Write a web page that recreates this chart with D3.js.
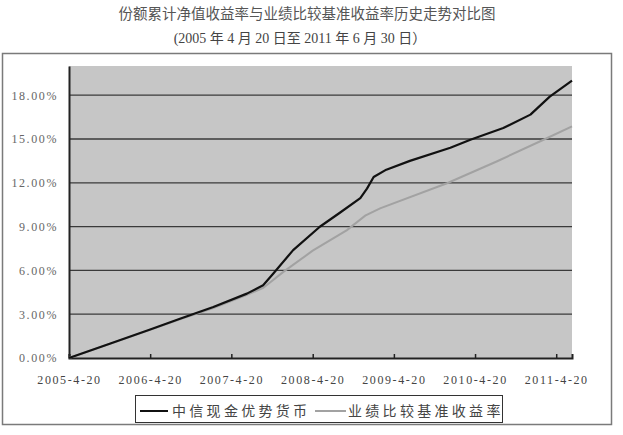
<!DOCTYPE html>
<html>
<head>
<meta charset="utf-8">
<script src="https://cdn.jsdelivr.net/npm/d3@7"></script>
<style>
  html, body { margin: 0; padding: 0; background: #fff; }
  svg { display: block; }
</style>
</head>
<body>
<svg id="chart" width="623" height="435"></svg>
<script>
// Cumulative net-value return of the fund vs. its benchmark, 2005-04-20 .. 2011-06-30 (values in %)
const titleLines = [
  "份额累计净值收益率与业绩比较基准收益率历史走势对比图",
  "(2005 年 4 月 20 日至 2011 年 6 月 30 日）"
];
const seriesNames = ["中信现金优势货币", "业绩比较基准收益率"];

const fundDates = ["2005-04-20","2005-10-20","2006-04-20","2006-09-01","2007-01-29","2007-06-29",
  "2007-09-10","2007-10-26","2008-01-23","2008-05-22","2008-08-20","2008-11-20","2008-12-20","2009-01-19",
  "2009-03-17","2009-07-01","2009-12-30","2010-03-30","2010-08-25","2010-12-25","2011-03-22","2011-06-30"];
const fundValues = [0, 0.98, 1.95, 2.69, 3.49, 4.41, 4.98, 5.79, 7.39, 8.99, 9.95, 10.95, 11.6, 12.4,
  12.9, 13.5, 14.4, 14.95, 15.75, 16.67, 17.9, 19.0];

const benchDates = ["2005-04-20","2006-04-20","2006-09-01","2007-01-29","2007-06-29","2007-09-10",
  "2007-12-10","2008-04-20","2008-09-21","2008-12-12","2009-02-17","2009-12-15","2010-07-26",
  "2011-02-22","2011-06-30"];
const benchValues = [0, 1.93, 2.65, 3.42, 4.32, 4.8, 5.9, 7.35, 8.76, 9.75, 10.25, 11.97, 13.46, 14.95, 15.86];

const xTickLabels = ["2005-4-20","2006-4-20","2007-4-20","2008-4-20","2009-4-20","2010-4-20","2011-4-20"];
const yTicks = [0, 3, 6, 9, 12, 15, 18];

const parse = d3.utcParse("%Y-%m-%d");
const parseTick = d3.utcParse("%Y-%-m-%-d");

const svg = d3.select("#chart");
const plot = { left: 69, right: 572, top: 66, bottom: 358 };

const x = d3.scaleUtc()
  .domain([parse("2005-04-20"), parse("2011-06-30")])
  .range([plot.left, plot.right]);
const y = d3.scaleLinear().domain([0, 20]).range([plot.bottom, plot.top]);

// title
svg.append("text").attr("x", 307).attr("y", 19).attr("text-anchor", "middle")
  .attr("font-family", "'Noto Sans CJK SC', 'Liberation Serif', serif").attr("font-size", 14.5).attr("fill", "#555")
  .text(titleLines[0]);
svg.append("text").attr("x", 300).attr("y", 43).attr("text-anchor", "middle")
  .attr("font-family", "'Liberation Serif', 'Noto Sans CJK SC', serif").attr("font-size", 14).attr("fill", "#444")
  .text(titleLines[1]);

// outer chart frame
svg.append("rect").attr("x", 2.5).attr("y", 53.5).attr("width", 609).attr("height", 371)
  .attr("fill", "#fff").attr("stroke", "#7a7a7a").attr("stroke-width", 1.5);

// plot background
svg.append("rect").attr("x", plot.left).attr("y", plot.top)
  .attr("width", plot.right - plot.left).attr("height", plot.bottom - plot.top)
  .attr("fill", "#c6c6c6");

// horizontal gridlines
svg.append("g").selectAll("line").data(yTicks.filter(d => d > 0)).join("line")
  .attr("x1", plot.left).attr("x2", plot.right)
  .attr("y1", d => y(d)).attr("y2", d => y(d))
  .attr("stroke", "#3a3a3a").attr("stroke-width", 1.3);

// y axis
const yAxis = d3.axisLeft(y).tickValues(yTicks).tickSize(0).tickPadding(11)
  .tickFormat(d => d3.format(".2f")(d) + "%");
const gy = svg.append("g").attr("transform", `translate(${plot.left},0)`).call(yAxis);
gy.select(".domain").attr("stroke", "#222").attr("stroke-width", 2);
gy.selectAll("text").attr("font-family", "'Liberation Serif', serif").attr("font-size", 12)
  .attr("letter-spacing", 1.6).attr("fill", "#666");

// x axis
const xAxis = d3.axisBottom(x).tickValues(xTickLabels.map(parseTick))
  .tickSize(-4).tickPadding(17).tickFormat((d, i) => xTickLabels[i]);
const gx = svg.append("g").attr("transform", `translate(0,${plot.bottom})`).call(xAxis);
gx.select(".domain").attr("stroke", "#222").attr("stroke-width", 2);
gx.selectAll(".tick line").attr("stroke", "#222").attr("stroke-width", 1.5);
gx.selectAll("text").attr("font-family", "'Liberation Serif', serif").attr("font-size", 12)
  .attr("letter-spacing", 1.6).attr("fill", "#444");

// series lines
const line = d3.line().x(d => x(d.date)).y(d => y(d.value));
const benchData = benchDates.map((d, i) => ({ date: parse(d), value: benchValues[i] }));
const fundData = fundDates.map((d, i) => ({ date: parse(d), value: fundValues[i] }));

svg.append("path").datum(benchData).attr("d", line)
  .attr("fill", "none").attr("stroke", "#a2a2a2").attr("stroke-width", 2);
svg.append("path").datum(fundData).attr("d", line)
  .attr("fill", "none").attr("stroke", "#111").attr("stroke-width", 2.2)
  .attr("stroke-linejoin", "round");

// legend
const legend = svg.append("g");
legend.append("rect").attr("x", 135.5).attr("y", 395.5).attr("width", 367).attr("height", 27)
  .attr("fill", "#fff").attr("stroke", "#333").attr("stroke-width", 1);
const legendItems = [
  { name: seriesNames[0], color: "#111", x1: 140, x2: 168, tx: 172 },
  { name: seriesNames[1], color: "#a2a2a2", x1: 315, x2: 346, tx: 348 }
];
legendItems.forEach(it => {
  legend.append("line").attr("x1", it.x1).attr("x2", it.x2).attr("y1", 411).attr("y2", 411)
    .attr("stroke", it.color).attr("stroke-width", 2);
  legend.append("text").attr("x", it.tx).attr("y", 416)
    .attr("font-family", "'Noto Sans CJK SC', sans-serif").attr("font-size", 14)
    .attr("letter-spacing", 3.3).attr("fill", "#444").text(it.name);
});
</script>
</body>
</html>
